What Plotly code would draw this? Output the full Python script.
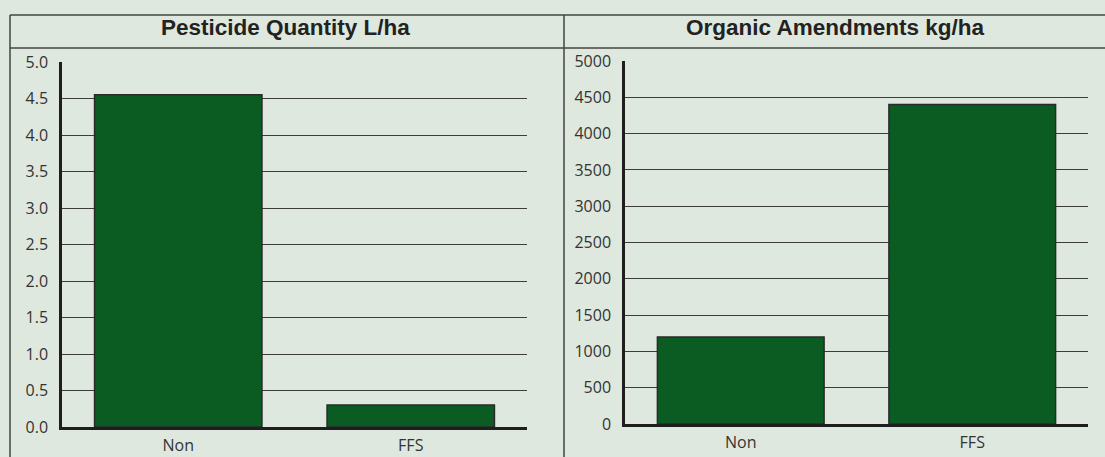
import plotly.graph_objects as go

categories = ["Non", "FFS"]
pesticide_l_ha = [4.55, 0.3]
organic_kg_ha = [1200, 4400]
titles = ["Pesticide Quantity L/ha", "Organic Amendments kg/ha"]
pest_ticks = [0, 0.5, 1, 1.5, 2, 2.5, 3, 3.5, 4, 4.5, 5]
pest_tick_text = ["0.0", "0.5", "1.0", "1.5", "2.0", "2.5", "3.0", "3.5", "4.0", "4.5", "5.0"]
org_ticks = [0, 500, 1000, 1500, 2000, 2500, 3000, 3500, 4000, 4500, 5000]

W, H = 1105, 457
BG = "#dfe8de"
BAR = "#0a5c22"

def px(x):
    return x / W

def py(y):
    return (H - y) / H

fig = go.Figure()
fig.add_trace(go.Bar(x=categories, y=pesticide_l_ha, xaxis="x", yaxis="y",
                     marker=dict(color=BAR, line=dict(color="#2a2a2a", width=1.5)),
                     showlegend=False, hoverinfo="x+y"))
fig.add_trace(go.Bar(x=categories, y=organic_kg_ha, xaxis="x2", yaxis="y2",
                     marker=dict(color=BAR, line=dict(color="#2a2a2a", width=1.5)),
                     showlegend=False, hoverinfo="x+y"))

tickfont = dict(family="Open Sans, Noto Sans, sans-serif", size=16, color="#333333")
axis_common = dict(showline=True, linecolor="#1e1e1e", linewidth=2.5, ticks="",
                   tickfont=tickfont, fixedrange=True, automargin=False)
fig.update_layout(
    width=W, height=H, autosize=False,
    margin=dict(l=0, r=0, t=0, b=0, pad=0, autoexpand=False),
    paper_bgcolor=BG, plot_bgcolor=BG,
    bargap=0.28,
    showlegend=False,
    xaxis=dict(domain=[px(62), px(527)], anchor="y", **axis_common, ticklabelstandoff=2),
    yaxis=dict(domain=[py(427), py(62)], anchor="x", range=[0, 5], tickvals=pest_ticks,
               ticktext=pest_tick_text, showgrid=True, gridcolor="#3c3c3c", gridwidth=1,
               zeroline=False, ticklabelstandoff=8, **axis_common),
    xaxis2=dict(domain=[px(625), px(1088)], anchor="y2", **axis_common, ticklabelstandoff=2),
    yaxis2=dict(domain=[py(424), py(61)], anchor="x2", range=[0, 5000], tickvals=org_ticks,
                showgrid=True, gridcolor="#3c3c3c", gridwidth=1, zeroline=False,
                ticklabelstandoff=8, **axis_common),
)

line = dict(color="#444444", width=1.5)
shapes = [
    dict(type="line", xref="paper", yref="paper", x0=px(10), x1=1, y0=py(15), y1=py(15), line=line),
    dict(type="line", xref="paper", yref="paper", x0=px(10), x1=1, y0=py(48), y1=py(48), line=line),
    dict(type="line", xref="paper", yref="paper", x0=px(10), x1=px(10), y0=0, y1=py(15), line=line),
    dict(type="line", xref="paper", yref="paper", x0=px(564), x1=px(564), y0=0, y1=py(15), line=line),
]
fig.update_layout(shapes=shapes)

title_font = dict(family="Liberation Sans, Arial, sans-serif", size=22.5, color="#222222", weight="bold")
fig.add_annotation(text=titles[0], xref="paper", yref="paper", x=px(285), y=py(27),
                   showarrow=False, xanchor="center", yanchor="middle", font=title_font)
fig.add_annotation(text=titles[1], xref="paper", yref="paper", x=px(835), y=py(27),
                   showarrow=False, xanchor="center", yanchor="middle", font=title_font)

fig.write_html("out.html", config={"displayModeBar": False},
               post_script="document.body.style.margin='0';document.body.style.padding='0';")
